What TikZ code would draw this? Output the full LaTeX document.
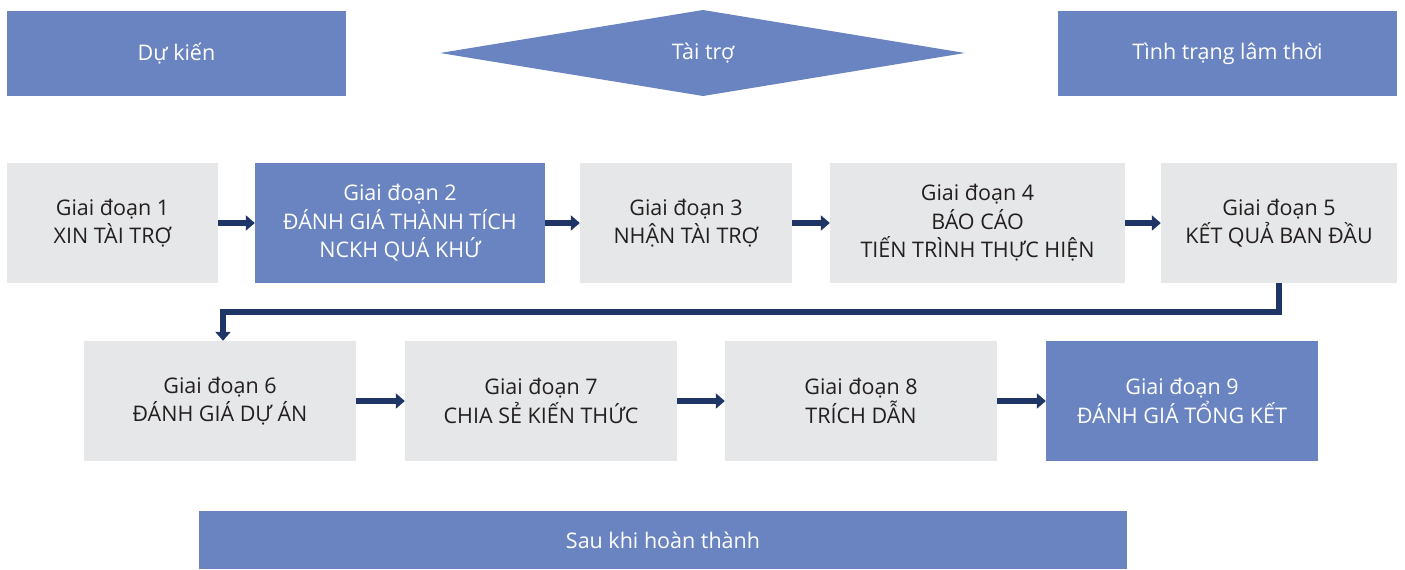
\documentclass[tikz,border=0pt]{standalone}
\usepackage{fontspec}
\setmainfont{Open Sans}
\usetikzlibrary{arrows.meta}
\definecolor{cblue}{HTML}{6A84C1}
\definecolor{cgray}{HTML}{E6E7E8}
\definecolor{ctext}{HTML}{231F20}
\definecolor{cnavy}{HTML}{1F3566}
\tikzset{
  txt/.style={font=\fontsize{21.5}{28.5}\selectfont},
  base/.style={rectangle, inner sep=0pt, align=center, txt, minimum height=120pt},
  graybox/.style={base, fill=cgray, text=ctext},
  bluebox/.style={base, fill=cblue, text=white},
  header/.style={rectangle, inner sep=0pt, align=center, txt, fill=cblue, text=white},
  conn/.style={draw=cnavy, line width=6.5pt, -{Triangle[length=9pt,width=15pt]}, color=cnavy},
}
\begin{document}
\begin{tikzpicture}[x=1pt,y=-1pt]
\useasboundingbox (0,0) rectangle (1405,570);
% headers
\node[header, minimum width=339pt, minimum height=85pt] (plan) at (176.5,53.5) {Dự kiến};
\fill[cblue] (440,53) -- (703,10) -- (965,53) -- (703,96) -- cycle;
\node[txt, text=white] (fund) at (703,53) {Tài trợ};
\node[header, minimum width=339pt, minimum height=85pt] (interim) at (1227.5,53.5) {Tình trạng lâm thời};
\node[header, minimum width=928pt, minimum height=58pt] (after) at (663,540) {Sau khi hoàn thành};
% row 1
\node[graybox, minimum width=211pt] (b1) at (112.5,223) {Giai đoạn 1\\XIN TÀI TRỢ};
\node[bluebox, minimum width=290pt] (b2) at (400,223) {Giai đoạn 2\\ĐÁNH GIÁ THÀNH TÍCH\\NCKH QUÁ KHỨ};
\node[graybox, minimum width=212pt] (b3) at (686,223) {Giai đoạn 3\\NHẬN TÀI TRỢ};
\node[graybox, minimum width=295pt] (b4) at (977.5,223) {Giai đoạn 4\\BÁO CÁO\\TIẾN TRÌNH THỰC HIỆN};
\node[graybox, minimum width=236pt] (b5) at (1279,223) {Giai đoạn 5\\KẾT QUẢ BAN ĐẦU};
% row 2
\node[graybox, minimum width=272pt] (b6) at (220,401) {Giai đoạn 6\\ĐÁNH GIÁ DỰ ÁN};
\node[graybox, minimum width=272pt] (b7) at (541,401) {Giai đoạn 7\\CHIA SẺ KIẾN THỨC};
\node[graybox, minimum width=272pt] (b8) at (861,401) {Giai đoạn 8\\TRÍCH DẪN};
\node[bluebox, minimum width=272pt] (b9) at (1182,401) {Giai đoạn 9\\ĐÁNH GIÁ TỔNG KẾT};
% connectors
\draw[conn] (b1.east) -- (b2.west);
\draw[conn] (b2.east) -- (b3.west);
\draw[conn] (b3.east) -- (b4.west);
\draw[conn] (b4.east) -- (b5.west);
\draw[conn] (b5.south) -- ++(0,29) -| ([xshift=3pt]b6.north);
\draw[conn] (b6.east) -- (b7.west);
\draw[conn] (b7.east) -- (b8.west);
\draw[conn] (b8.east) -- (b9.west);
\end{tikzpicture}
\end{document}
